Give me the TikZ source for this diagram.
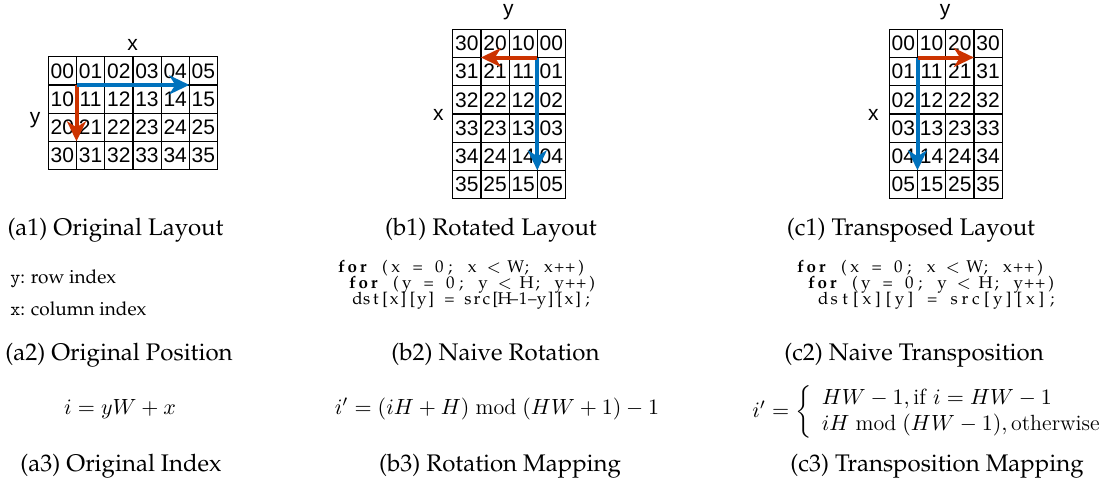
\documentclass[tikz,border=0pt]{standalone}
\usepackage{fix-cm}
\usepackage[T1]{fontenc}
\usepackage{fontspec}
\usepackage{amsmath}
\usetikzlibrary{arrows.meta}

\newfontfamily\gridfont{Liberation Sans}
\newcommand\palfont{\fontencoding{T1}\fontfamily{ppl}\selectfont}
\newcommand\monoy{\fontencoding{TU}\fontfamily{lmtt}\selectfont}
\definecolor{walkblue}{RGB}{0,114,189}
\definecolor{walkred}{RGB}{204,51,0}

% one character per fixed column, like a listing
\newlength\colw
\setlength\colw{5.45pt}
\newcommand\fixrun[1]{\ifx\relax#1\else\makebox[\colw]{#1}\expandafter\fixrun\fi}
\newcommand\kw[1]{{\bfseries\fixrun#1\relax}}
\newcommand\codelt{\ensuremath{<}}

\begin{document}
\begin{tikzpicture}[x=0.5pt,y=-0.5pt,
    cell/.style={draw,line width=0.6pt,minimum size=14.1pt,inner sep=0pt,outer sep=0pt,
      font=\gridfont\fontsize{10.5}{12}\selectfont},
    axislabel/.style={anchor=base,font=\gridfont\fontsize{10.5}{12}\selectfont},
    subcap/.style={anchor=base,inner sep=0pt,font=\palfont\fontsize{12}{14}\selectfont},
    note/.style={anchor=base west,inner sep=0pt,font=\palfont\fontsize{9.5}{11}\selectfont},
    codeline/.style={anchor=base west,inner sep=0pt,font=\palfont\fontsize{8.5}{9}\selectfont},
    formula/.style={anchor=base,inner sep=0pt,font=\fontsize{11}{13}\selectfont},
    walk/.style={line width=2pt,-{Stealth[length=10pt,width=9.5pt,inset=3pt]}}]
  \useasboundingbox (0,0) rectangle (1102,483);

  % (a1) original layout, 4 rows x 6 columns
  \foreach \r in {0,...,3}
    \foreach \c in {0,...,5}
      \node[cell] (a-\r-\c) at ({62.4+28.2*\c},{70.8+28.2*\r}) {\r\c};
  \node[axislabel] (ax-a) at (132.7,50.7) {x};
  \node[axislabel] (ay-a) at (35,123) {y};
  \draw[walk,walkred] (a-1-1.north west) -- (a-3-1.north west);
  \draw[walk,walkblue] (a-1-1.north west) -- (a-1-5.north west);

  % (b1) rotated layout, 6 rows x 4 columns
  \foreach \r in {0,...,5}
    \foreach \c in {0,...,3} {
      \pgfmathtruncatemacro\k{3-\c}
      \node[cell] (b-\r-\c) at ({466.8+28.2*\c},{43.4+28.2*\r}) {\k\r};
    }
  \node[axislabel] (ay-b) at (508.3,15.5) {y};
  \node[axislabel] (ax-b) at (438.3,120.7) {x};
  \draw[walk,walkblue] (b-1-3.north west) -- (b-5-3.north west);
  \draw[walk,walkred] (b-1-3.north west) -- (b-1-1.north west);

  % (c1) transposed layout
  \foreach \r in {0,...,5}
    \foreach \c in {0,...,3}
      \node[cell] (c-\r-\c) at ({903.4+28.2*\c},{43.4+28.2*\r}) {\c\r};
  \node[axislabel] (ay-c) at (945,15.5) {y};
  \node[axislabel] (ax-c) at (873.3,120.7) {x};
  \draw[walk,walkblue] (c-1-1.north west) -- (c-5-1.north west);
  \draw[walk,walkred] (c-1-1.north west) -- (c-1-3.north west);

  % positions and loops
  \node[note] (rowidx) at (10,283.3) {{\monoy y}: row index};
  \node[note] (colidx) at (10,315) {{\monoy x}: column index};

  \node[codeline] (rot-1) at (335.5,272) {\kw{for}\fixrun~(x~=~0;~x~\codelt~W;~x++)\relax};
  \node[codeline] (rot-2) at (346.5,288) {\kw{for}\fixrun~(y~=~0;~y~\codelt~H;~y++)\relax};
  \node[codeline] (rot-3) at (352.5,304) {\setlength\colw{4.6pt}%
    \fixrun dst[x][y]~=~src[H\textendash1\textendash y][x];\relax};

  \node[codeline] (tr-1) at (794.5,272) {\kw{for}\fixrun~(x~=~0;~x~\codelt~W;~x++)\relax};
  \node[codeline] (tr-2) at (805.5,288) {\kw{for}\fixrun~(y~=~0;~y~\codelt~H;~y++)\relax};
  \node[codeline] (tr-3) at (817.5,304) {\fixrun dst[x][y]~=~src[y][x];\relax};

  % index formulas
  \node[formula] (idx-a) at (120,414) {$i = yW + x$};
  \node[formula] (idx-b) at (497,414) {$i' = (iH + H) \bmod (HW + 1) - 1$};
  \node[formula,anchor=west] (idx-c) at (752,412)
    {$i' = \left\{\begin{array}{l} HW - 1, \text{if } i = HW - 1\\ iH \bmod (HW - 1), \text{otherwise}\end{array}\right.$};

  % captions
  \node[subcap] (cap-a1) at (115.5,235) {(a1) Original Layout};
  \node[subcap] (cap-b1) at (491,235) {(b1) Rotated Layout};
  \node[subcap] (cap-c1) at (911,235) {(c1) Transposed Layout};
  \node[subcap] (cap-a2) at (119,360) {(a2) Original Position};
  \node[subcap] (cap-b2) at (495.5,360) {(b2) Naive Rotation};
  \node[subcap] (cap-c2) at (914,360) {(c2) Naive Transposition};
  \node[subcap] (cap-a3) at (121,471) {(a3) Original Index};
  \node[subcap] (cap-b3) at (500,471) {(b3) Rotation Mapping};
  \node[subcap] (cap-c3) at (937,471) {(c3) Transposition Mapping};
\end{tikzpicture}
\end{document}
